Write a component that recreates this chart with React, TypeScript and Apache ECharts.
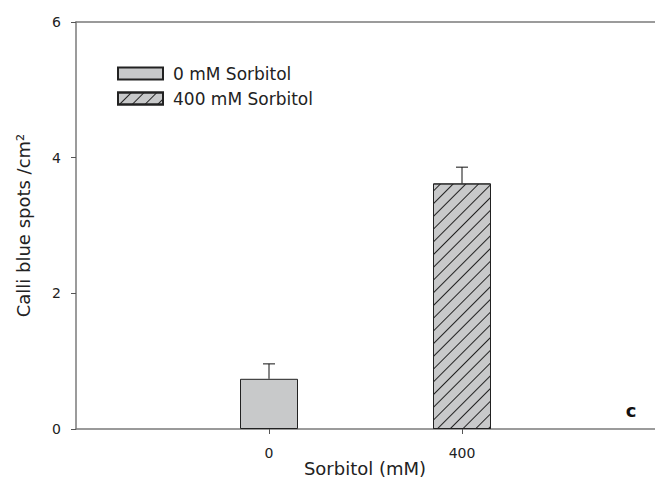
import React, { useEffect, useRef } from "react";
import * as echarts from "echarts";

const categories = [0, 400];
const seriesNames = ["0 mM Sorbitol", "400 mM Sorbitol"];
const barValues = [0.74, 3.62];
const errorTops = [0.96, 3.86];
const yTicks = [0, 2, 4, 6];
const xTitle = "Sorbitol (mM)";
const yTitle = "Calli blue spots /cm²";
const panelLetter = "c";

const FONT = "DejaVu Sans";

export default function App() {
  const ref = useRef<HTMLDivElement>(null);
  useEffect(() => {
    const chart = echarts.init(ref.current!, null, { renderer: "svg" });
    const fill = "#c8c9ca";
    const option: any = {
      animation: false,
      backgroundColor: "#ffffff",
      grid: { left: 76, right: 0, top: 22, bottom: 50, outerBoundsMode: "none", containLabel: false },
      legend: {
        orient: "vertical",
        left: 117,
        top: 65,
        padding: 0,
        itemWidth: 45,
        itemHeight: 12,
        itemGap: 8,
        icon: "rect",
        data: seriesNames,
        textStyle: { fontFamily: FONT, fontSize: 17, color: "#222", padding: [0, 0, 0, 5] },
      },
      xAxis: [
        {
          type: "value",
          min: -400,
          max: 800,
          position: "bottom",
          axisLine: { show: true, onZero: false, lineStyle: { color: "#7a7a7a", width: 1.5 } },
          axisTick: { show: true, customValues: categories, length: 5, lineStyle: { color: "#555" } },
          axisLabel: { customValues: categories, fontFamily: FONT, fontSize: 14, color: "#222", margin: 17 },
          splitLine: { show: false },
        },
        {
          type: "value",
          min: -400,
          max: 800,
          position: "top",
          axisLine: { show: true, onZero: false, lineStyle: { color: "#7a7a7a", width: 1.5 } },
          axisTick: { show: false },
          axisLabel: { show: false },
          splitLine: { show: false },
        },
      ],
      yAxis: {
        type: "value",
        min: yTicks[0],
        max: yTicks[yTicks.length - 1],
        interval: 2,
        name: yTitle,
        nameLocation: "middle",
        nameGap: 44,
        nameTextStyle: { fontFamily: FONT, fontSize: 18, color: "#222" },
        axisLine: { show: true, onZero: false, lineStyle: { color: "#7a7a7a", width: 1.5 } },
        axisTick: { show: true, length: 5, lineStyle: { color: "#555" } },
        axisLabel: { fontFamily: FONT, fontSize: 14, color: "#222", margin: 15 },
        splitLine: { show: false },
      },
      series: [
        {
          name: seriesNames[0],
          type: "bar",
          xAxisIndex: 0,
          barWidth: 58,
          barGap: "-100%",
          data: [[categories[0], barValues[0]]],
          itemStyle: { color: fill, borderColor: "#222", borderWidth: 1 },
        },
        {
          name: seriesNames[1],
          type: "bar",
          xAxisIndex: 0,
          barWidth: 58,
          barGap: "-100%",
          data: [[categories[1], barValues[1]]],
          itemStyle: {
            color: fill,
            borderColor: "#222",
            borderWidth: 1,
            decal: {
              symbol: "rect",
              symbolSize: 1,
              rotation: -Math.PI / 4,
              dashArrayX: [1, 0],
              dashArrayY: [1, 7.5],
              color: "#222",
            },
          },
        },
        {
          type: "custom",
          xAxisIndex: 0,
          z: 5,
          data: categories.map((c, i) => [c, barValues[i], errorTops[i]]),
          renderItem: (params: any, api: any) => {
            const x = api.value(0);
            const p1 = api.coord([x, api.value(1)]);
            const p2 = api.coord([x, api.value(2)]);
            const st = { stroke: "#111", lineWidth: 1 };
            return {
              type: "group",
              children: [
                { type: "line", shape: { x1: p1[0], y1: p1[1], x2: p2[0], y2: p2[1] }, style: st },
                { type: "line", shape: { x1: p2[0] - 6, y1: p2[1], x2: p2[0] + 6, y2: p2[1] }, style: st },
              ],
            };
          },
        },
      ],
      graphic: [
        {
          type: "text",
          x: 365,
          y: 468,
          style: {
            text: xTitle,
            fontFamily: FONT,
            fontSize: 18,
            fill: "#222",
            align: "center",
            verticalAlign: "middle",
          },
        },
        {
          type: "text",
          x: 631,
          y: 410,
          style: {
            text: panelLetter,
            fontFamily: FONT,
            fontWeight: "bold",
            fontSize: 18,
            fill: "#111",
            align: "center",
            verticalAlign: "middle",
          },
        },
      ],
    };
    chart.setOption(option);
    return () => chart.dispose();
  }, []);
  return (
    <div
      ref={ref}
      style={{ position: "fixed", left: 0, top: 0, width: 655, height: 479 }}
    />
  );
}
